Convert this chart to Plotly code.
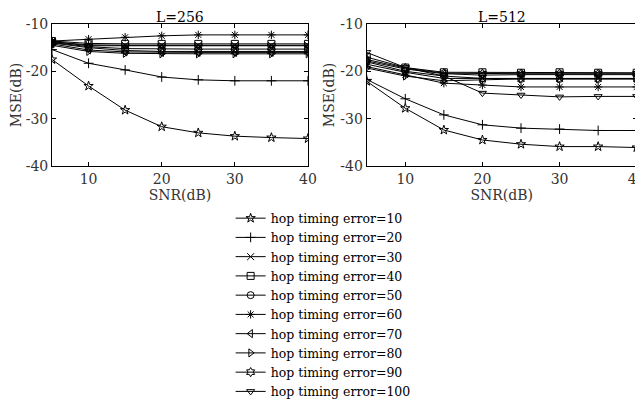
import plotly.graph_objects as go
from plotly.subplots import make_subplots

snr = [5, 10, 15, 20, 25, 30, 35, 40]
errors = [10, 20, 30, 40, 50, 60, 70, 80, 90, 100]
symbols = ["star-open", "cross-thin-open", "x-thin-open", "square-open", "circle-open",
           "asterisk-open", "triangle-left-open", "triangle-right-open", "hexagram-open",
           "triangle-down-open"]
y_ticks = [-40, -30, -20, -10]
y_tick_text = ["-40", "-30", "-20", "-10"]
x_ticks = [10, 20, 30, 40]

# L=256
mse_256 = {
    10: [-17.5, -23.1, -28.2, -31.7, -33.0, -33.7, -34.0, -34.2],
    20: [-15.4, -18.3, -19.7, -21.2, -21.8, -22.0, -22.0, -22.0],
    30: [-13.8, -14.4, -14.5, -14.5, -14.5, -14.5, -14.5, -14.5],
    40: [-13.6, -14.1, -14.2, -14.2, -14.2, -14.2, -14.2, -14.2],
    50: [-13.9, -14.8, -15.2, -15.3, -15.3, -15.3, -15.3, -15.3],
    60: [-13.6, -13.2, -12.8, -12.5, -12.3, -12.3, -12.3, -12.3],
    70: [-14.2, -15.5, -15.9, -16.0, -16.0, -16.0, -16.0, -16.0],
    80: [-14.5, -15.8, -16.2, -16.3, -16.3, -16.3, -16.3, -16.3],
    90: [-14.0, -15.0, -15.6, -15.8, -15.8, -15.8, -15.8, -15.8],
    100: [-13.7, -14.6, -14.6, -14.6, -14.6, -14.6, -14.6, -14.6],
}

# L=512
mse_512 = {
    10: [-22.1, -27.8, -32.4, -34.5, -35.4, -35.9, -35.9, -36.1],
    20: [-21.7, -25.8, -29.2, -31.3, -32.0, -32.2, -32.5, -32.5],
    30: [-18.5, -20.2, -21.5, -21.5, -21.5, -21.5, -21.5, -21.5],
    40: [-17.0, -19.2, -20.2, -20.2, -20.3, -20.2, -20.3, -20.3],
    50: [-18.0, -20.0, -21.0, -21.5, -21.6, -21.6, -21.6, -21.6],
    60: [-19.0, -20.8, -22.5, -22.9, -23.3, -23.3, -23.3, -23.3],
    70: [-17.8, -19.5, -20.5, -20.8, -20.7, -20.7, -20.7, -20.7],
    80: [-19.3, -21.0, -22.0, -21.8, -21.6, -21.6, -21.6, -21.6],
    90: [-17.5, -19.3, -20.4, -20.5, -20.5, -20.5, -20.5, -20.5],
    100: [-16.0, -19.2, -21.0, -24.6, -25.0, -25.4, -25.3, -25.3],
}

FONT = "DejaVu Serif"

x_dom1 = [0.0693, 0.4724]
x_dom2 = [0.5649, 0.9901]
y_dom = [0.598, 0.9593]

fig = make_subplots(rows=1, cols=2, subplot_titles=["L=256", "L=512"])

for i, e in enumerate(errors):
    for col, data in [(1, mse_256), (2, mse_512)]:
        fig.add_trace(
            go.Scatter(
                x=snr,
                y=data[e],
                mode="lines+markers",
                name=f"hop timing error={e}",
                showlegend=(col == 1),
                line=dict(color="black", width=1),
                marker=dict(symbol=symbols[i], size=7, color="black",
                            line=dict(color="black", width=1)),
            ),
            row=1, col=col,
        )

axis_common = dict(
    showline=True, linecolor="black", linewidth=1, mirror="ticks",
    ticks="inside", ticklen=4, tickcolor="black", showgrid=False, zeroline=False,
    tickfont=dict(family=FONT, size=14, color="#333"),
    title_font=dict(family=FONT, size=14, color="#333"),
    title_standoff=2,
)

fig.update_xaxes(range=[5, 40], tickvals=x_ticks, title_text="SNR(dB)",
                 ticklabeloverflow="allow", **axis_common)
fig.update_yaxes(range=[-40, -10], tickvals=y_ticks, ticktext=y_tick_text,
                 title_text="MSE(dB)", **axis_common)

# page body has an 8px margin, so the figure is sized to the remaining window
fig.update_layout(
    width=635, height=393,
    margin=dict(l=0, r=0, t=0, b=0, autoexpand=False),
    plot_bgcolor="white", paper_bgcolor="white",
    xaxis=dict(domain=x_dom1),
    xaxis2=dict(domain=x_dom2),
    yaxis=dict(domain=y_dom),
    yaxis2=dict(domain=y_dom),
    legend=dict(x=0.3506, y=0.5025, xanchor="left", yanchor="top",
                font=dict(family=FONT, size=12.5, color="black"),
                itemwidth=30, tracegroupgap=0, bgcolor="rgba(0,0,0,0)"),
    font=dict(family=FONT, color="#333"),
)

# subplot titles follow the custom domains
for ann, dom in zip(fig.layout.annotations, [x_dom1, x_dom2]):
    ann.x = (dom[0] + dom[1]) / 2
    ann.y = y_dom[1]
    ann.font = dict(family=FONT, size=14, color="black")
    ann.yshift = -3

fig.write_html("out.html")
